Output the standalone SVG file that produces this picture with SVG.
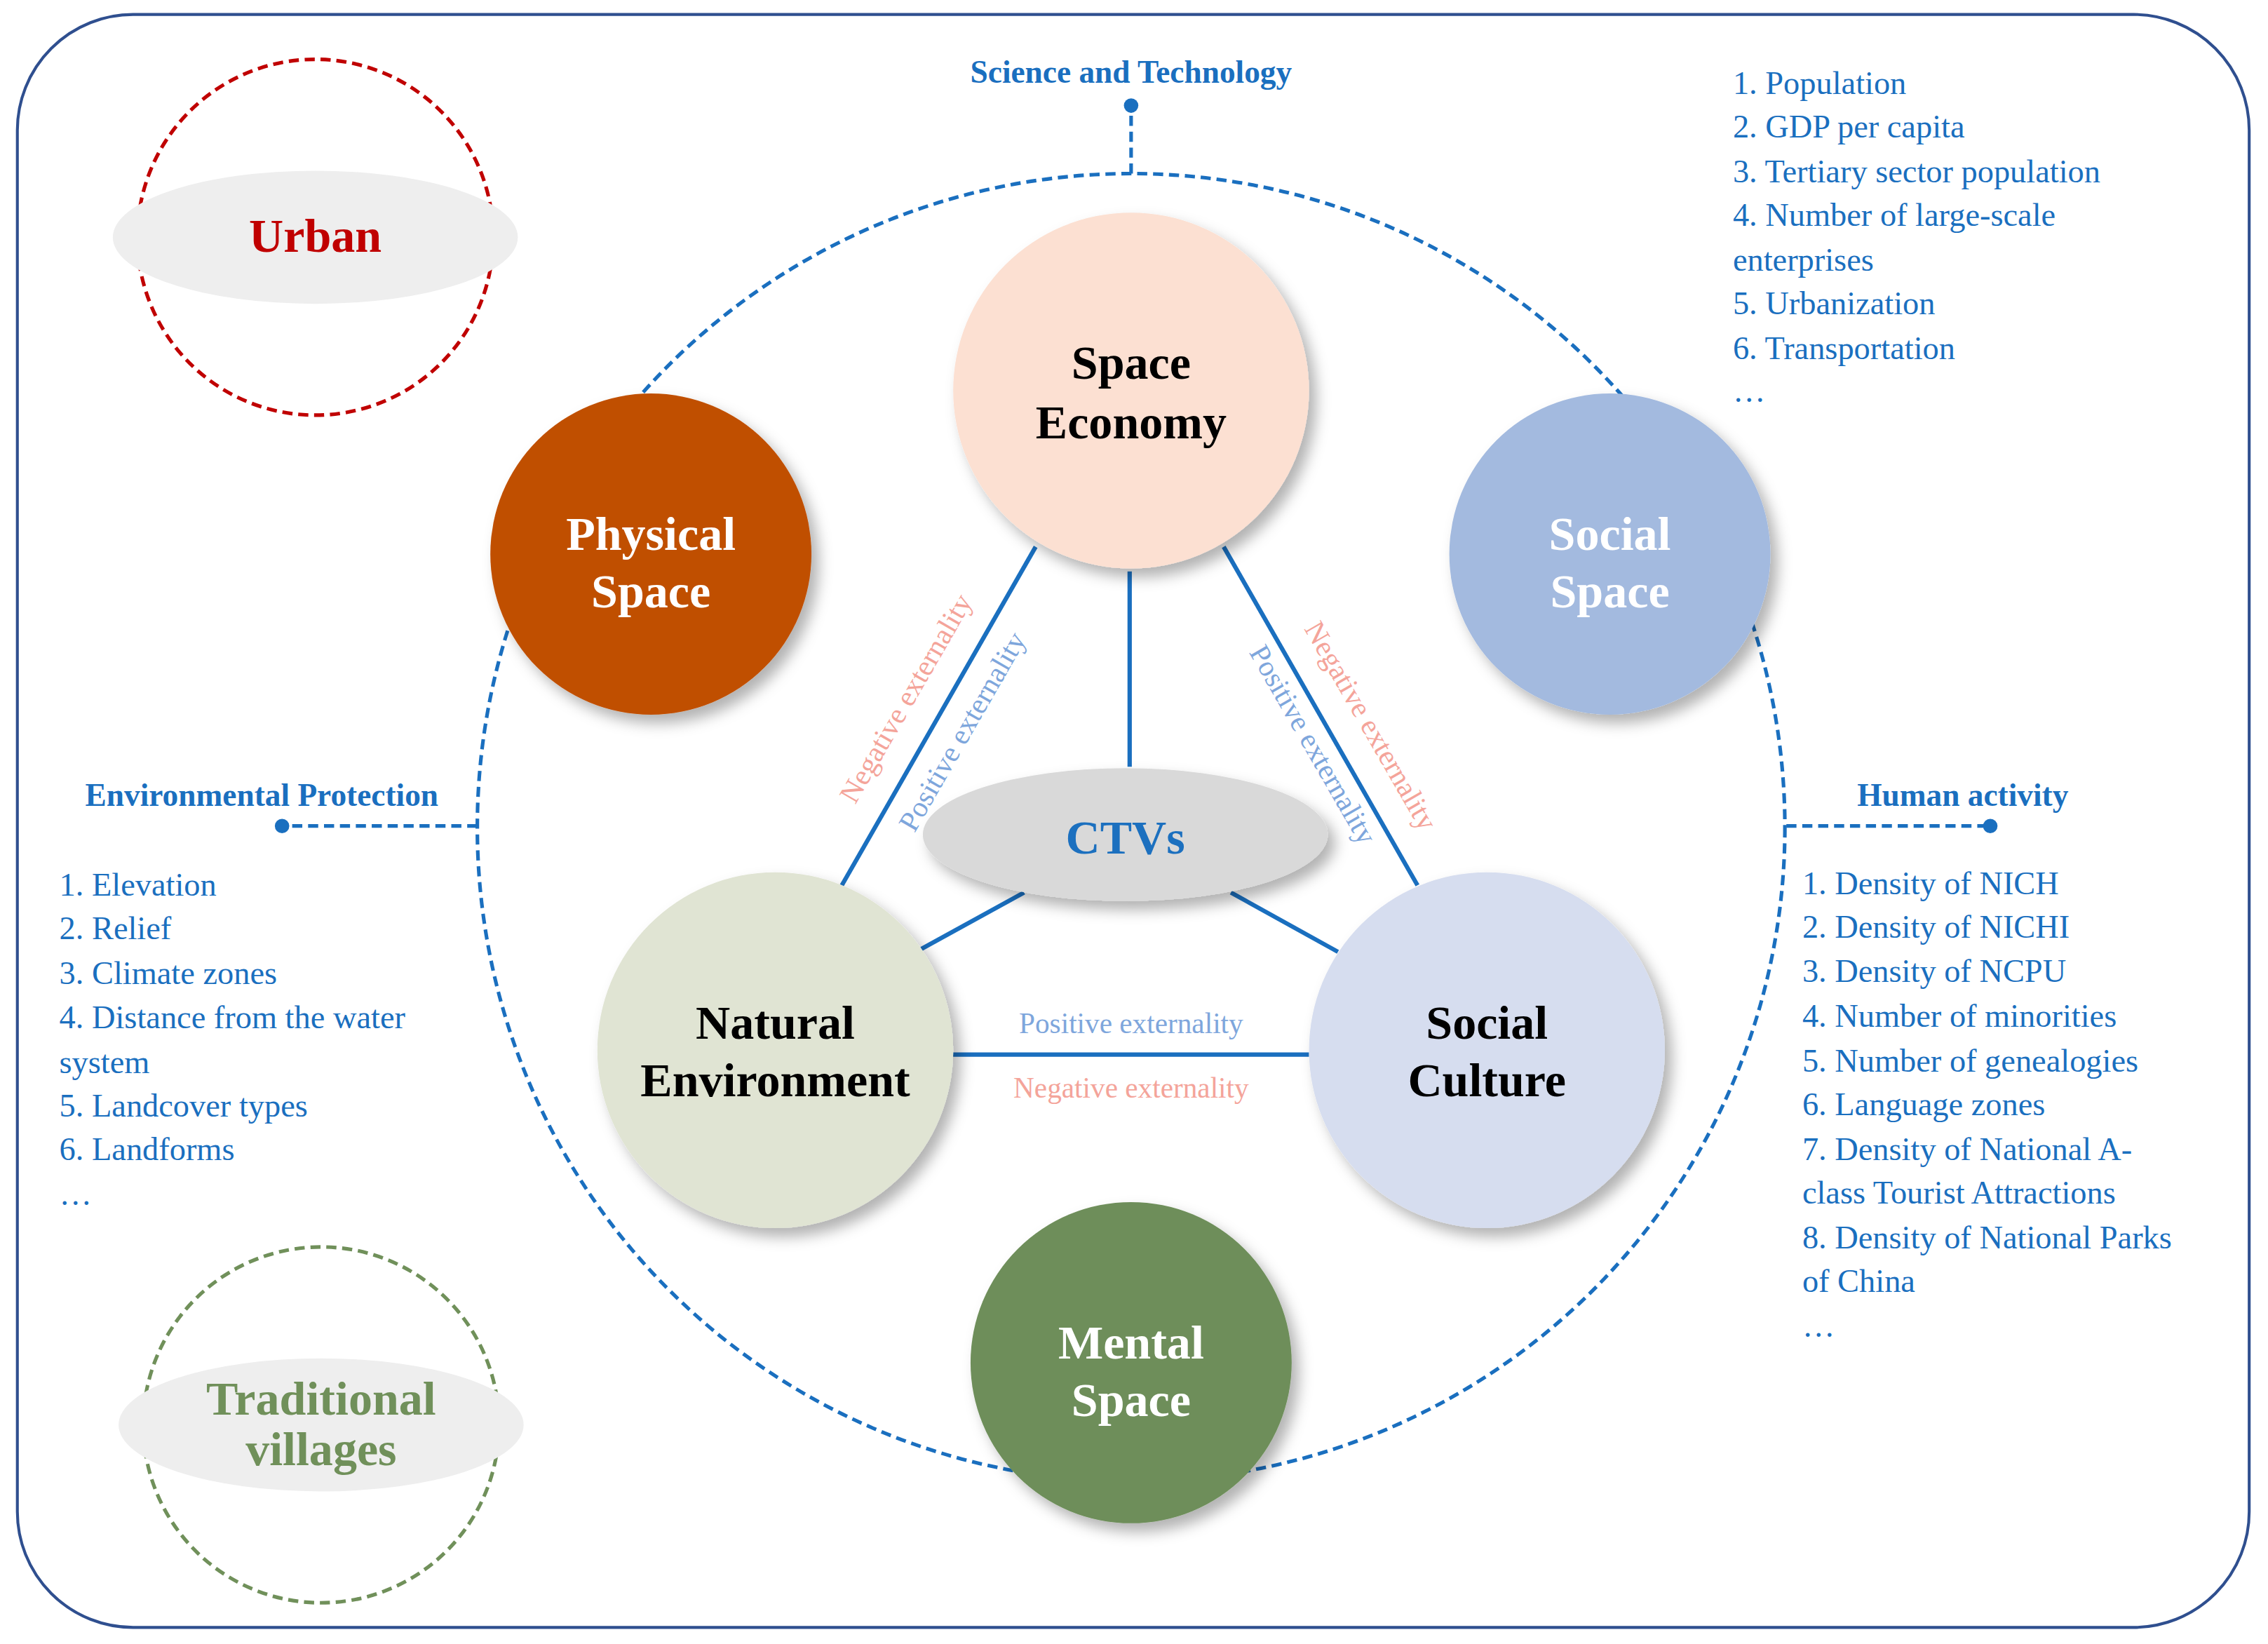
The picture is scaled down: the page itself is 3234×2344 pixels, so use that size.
<svg xmlns="http://www.w3.org/2000/svg" width="3234" height="2344" viewBox="0 0 3234 2344">
<style>
.t{font-family:"Liberation Serif",serif}
.nl{font-family:"Liberation Serif",serif;font-weight:bold;font-size:33px;text-anchor:middle}
.li{font-family:"Liberation Serif",serif;font-size:22.5px;fill:#1a6fbf}
.hd{font-family:"Liberation Serif",serif;font-weight:bold;font-size:22px;fill:#1a6fbf;text-anchor:middle}
.ex{font-family:"Liberation Serif",serif;font-size:20px;text-anchor:middle}
.dash{fill:none;stroke:#1a6fbf;stroke-width:2.5;stroke-dasharray:7 4}
.ln{stroke:#1a6fbf;stroke-width:3}
</style>
<defs>
<filter id="sh" x="-30%" y="-30%" width="160%" height="160%"><feDropShadow dx="5" dy="6" stdDeviation="5" flood-color="#000" flood-opacity="0.3"/></filter>
</defs>
<rect width="3234" height="2344" fill="#fff"/>
<g transform="scale(2.0625)">
<rect x="12" y="10" width="1543" height="1115" rx="80" fill="none" stroke="#2f4f8f" stroke-width="2"/>
<circle class="dash" cx="782" cy="572" r="452"/>
<g id="connectors">
<line class="ln" x1="716" y1="378" x2="582" y2="612"/>
<line class="ln" x1="781" y1="395" x2="781" y2="530"/>
<line class="ln" x1="846" y1="378" x2="980" y2="612"/>
<line class="ln" x1="637" y1="656" x2="708" y2="617"/>
<line class="ln" x1="851" y1="617" x2="925" y2="658"/>
<line class="ln" x1="659" y1="729" x2="905" y2="729"/>
<path class="dash" d="M782 120 V73 M330 571 H195 M1235 571 H1376"/>
<circle cx="782" cy="73" r="5" fill="#1a6fbf"/>
<circle cx="195" cy="571" r="5" fill="#1a6fbf"/>
<circle cx="1376" cy="571" r="5" fill="#1a6fbf"/>
<text class="ex" fill="#f4a49a" transform="translate(632,486) rotate(-60)">Negative externality</text>
<text class="ex" fill="#7ea6dc" transform="translate(671,509) rotate(-60)">Positive externality</text>
<text class="ex" fill="#f4a49a" transform="translate(942,505) rotate(60)">Negative externality</text>
<text class="ex" fill="#7ea6dc" transform="translate(902,518) rotate(60)">Positive externality</text>
<text class="ex" fill="#7ea6dc" x="782" y="714">Positive externality</text>
<text class="ex" fill="#f4a49a" x="782" y="759">Negative externality</text>
</g>
<g id="urban">
<circle cx="218" cy="164" r="123" fill="none" stroke="#c00000" stroke-width="2.5" stroke-dasharray="7 4"/>
<ellipse cx="218" cy="164" rx="140" ry="46" fill="#eeeeee"/>
<text class="nl" x="218" y="174" fill="#c00000" font-size="28">Urban</text>
</g>
<g id="villages">
<circle cx="222" cy="985" r="123" fill="none" stroke="#70905a" stroke-width="2.5" stroke-dasharray="7 4"/>
<ellipse cx="222" cy="985" rx="140" ry="46" fill="#eeeeee"/>
<text class="nl" x="222" y="978" fill="#70905a" font-size="28">Traditional</text>
<text class="nl" x="222" y="1013" fill="#70905a" font-size="28">villages</text>
</g>
<g id="economy" filter="url(#sh)"><circle cx="782" cy="270" r="123" fill="#fce0d2"/>
<text class="nl" x="782" y="262" fill="#000">Space</text><text class="nl" x="782" y="303" fill="#000">Economy</text></g>
<g id="physical" filter="url(#sh)"><circle cx="450" cy="383" r="111" fill="#c05000"/>
<text class="nl" x="450" y="380" fill="#fff">Physical</text><text class="nl" x="450" y="420" fill="#fff">Space</text></g>
<g id="socialspace" filter="url(#sh)"><circle cx="1113" cy="383" r="111" fill="#a3badf"/>
<text class="nl" x="1113" y="380" fill="#fff">Social</text><text class="nl" x="1113" y="420" fill="#fff">Space</text></g>
<g id="natural" filter="url(#sh)"><circle cx="536" cy="726" r="123" fill="#e0e4d3"/>
<text class="nl" x="536" y="718" fill="#000">Natural</text><text class="nl" x="536" y="758" fill="#000">Environment</text></g>
<g id="culture" filter="url(#sh)"><circle cx="1028" cy="726" r="123" fill="#d6ddef"/>
<text class="nl" x="1028" y="718" fill="#000">Social</text><text class="nl" x="1028" y="758" fill="#000">Culture</text></g>
<g id="mental" filter="url(#sh)"><circle cx="782" cy="942" r="111" fill="#6e8e5a"/>
<text class="nl" x="782" y="939" fill="#fff">Mental</text><text class="nl" x="782" y="979" fill="#fff">Space</text></g>
<g id="ctvs" filter="url(#sh)"><ellipse cx="778" cy="577" rx="140" ry="46" fill="#d9d9d9"/>
<text class="nl" x="778" y="590" fill="#1a6fbf" font-size="36">CTVs</text></g>
<g id="labels">
<text class="hd" x="782" y="57">Science and Technology</text>
<text class="hd" x="181" y="557">Environmental Protection</text>
<text class="hd" x="1357" y="557">Human activity</text>
<text class="li" x="1198" y="65">1. Population</text>
<text class="li" x="1198" y="95">2. GDP per capita</text>
<text class="li" x="1198" y="126">3. Tertiary sector population</text>
<text class="li" x="1198" y="156">4. Number of large-scale</text>
<text class="li" x="1198" y="187">enterprises</text>
<text class="li" x="1198" y="217">5. Urbanization</text>
<text class="li" x="1198" y="248">6. Transportation</text>
<text class="li" x="1198" y="278">…</text>
<text class="li" x="41" y="619">1. Elevation</text>
<text class="li" x="41" y="649">2. Relief</text>
<text class="li" x="41" y="680">3. Climate zones</text>
<text class="li" x="41" y="711">4. Distance from the water</text>
<text class="li" x="41" y="742">system</text>
<text class="li" x="41" y="772">5. Landcover types</text>
<text class="li" x="41" y="802">6. Landforms</text>
<text class="li" x="41" y="833">…</text>
<text class="li" x="1246" y="618">1. Density of NICH</text>
<text class="li" x="1246" y="648">2. Density of NICHI</text>
<text class="li" x="1246" y="679">3. Density of NCPU</text>
<text class="li" x="1246" y="710">4. Number of minorities</text>
<text class="li" x="1246" y="741">5. Number of genealogies</text>
<text class="li" x="1246" y="771">6. Language zones</text>
<text class="li" x="1246" y="802">7. Density of National A-</text>
<text class="li" x="1246" y="832">class Tourist Attractions</text>
<text class="li" x="1246" y="863">8. Density of National Parks</text>
<text class="li" x="1246" y="893">of China</text>
<text class="li" x="1246" y="924">…</text>
</g>
</g>
</svg>
